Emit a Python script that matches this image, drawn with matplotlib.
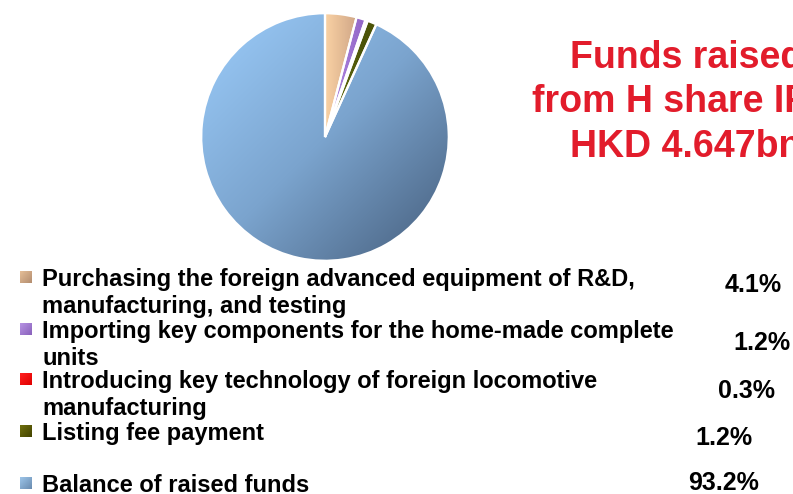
import numpy as np
import matplotlib.pyplot as plt
from matplotlib.colors import LinearSegmentedColormap
from matplotlib.patches import Rectangle

# ---- data ----
labels = [
    "Purchasing the foreign advanced equipment of R&D,\nmanufacturing, and testing",
    "Importing key components for the home-made complete\nunits",
    "Introducing key technology of foreign locomotive\nmanufacturing",
    "Listing fee payment",
    "Balance of raised funds",
]
shares = [4.1, 1.2, 0.3, 1.2, 93.2]
pct_labels = ["4.1%", "1.2%", "0.3%", "1.2%", "93.2%"]
title_lines = ["Funds raised", "from H share IPO", "HKD 4.647bn"]

# gradient stops per slice (light -> dark)
grads = [
    ["#fad2a4", "#c99f82"],
    ["#b48ce6", "#9468c8"],
    ["#ff6a6a", "#ff2020"],
    ["#6c7414", "#4c5408"],
    ["#9ccdfb", "#7ba4ce", "#455d7b"],
]
marker_cols = [["#e6bf98", "#b48e70"], ["#b894e4", "#8a62bc"], ["#ff2020", "#e00000"],
               ["#70700e", "#444400"], ["#9cc4e8", "#6a8cb0"]]

W, H = 793, 494
fig = plt.figure(figsize=(W / 100, H / 100), dpi=100)
fx = lambda x: x / W
fy = lambda y: 1 - y / H

# ---- pie ----
cx, cy, r = 325, 137, 125
ax = fig.add_axes([fx(cx - r), fy(cy + r), 2 * r / W, 2 * r / H])
wedges, _ = ax.pie(shares, startangle=90, counterclock=False,
                   wedgeprops=dict(edgecolor="white", linewidth=1.6))
ax.set_xlim(-1.01, 1.01)
ax.set_ylim(-1.01, 1.01)
ax.set_aspect("equal")
ax.axis("off")

xx, yy = np.meshgrid(np.linspace(-1, 1, 400), np.linspace(1, -1, 400))
for i, w in enumerate(wedges):
    cmap = LinearSegmentedColormap.from_list("g%d" % i, grads[i])
    if i == 4:
        t = (xx - yy + 2) / 4
    else:
        t = np.clip(xx / 0.3, 0, 1)
    w.set_facecolor("none")
    im = ax.imshow(t, extent=(-1, 1, -1, 1), cmap=cmap, vmin=0, vmax=1,
                   zorder=0.5, interpolation="bilinear")
    im.set_clip_path(w)

# ---- title (runs off the right edge, as in the original slide) ----
tfont = dict(family="Liberation Sans", weight="bold", size=27, color="#e21c2b")
title_x = [570, 532, 570]
title_y = [68, 112, 157]
for s, x, y in zip(title_lines, title_x, title_y):
    fig.text(fx(x), fy(y), s, ha="left", va="baseline", **tfont)

# ---- legend ----
lfont = dict(family="Liberation Sans", weight="bold", size=17, color="black")
pfont = dict(lfont, size=18)
leg_y = [286, 338, 388, 440, 492]
pct_x = [725, 733, 718, 695, 688]
pct_y = [292, 350, 398, 445, 490]
sq = np.linspace(0, 1, 16)[None, :] * np.ones((16, 1))
for i, lab in enumerate(labels):
    for j, line in enumerate(lab.split("\n")):
        fig.text(fx(42), fy(leg_y[i] + j * 27), line, ha="left", va="baseline", **lfont)
    c = leg_y[i] - 9
    max_ = fig.add_axes([fx(20), fy(c + 6), 12 / W, 12 / H])
    mcmap = LinearSegmentedColormap.from_list("m%d" % i, marker_cols[i])
    max_.imshow((sq + sq.T) / 2, cmap=mcmap, aspect="auto", interpolation="bilinear")
    max_.axis("off")
    fig.text(fx(pct_x[i]), fy(pct_y[i]), pct_labels[i], ha="left", va="baseline", **pfont)

fig.savefig("out.png", dpi=100)
